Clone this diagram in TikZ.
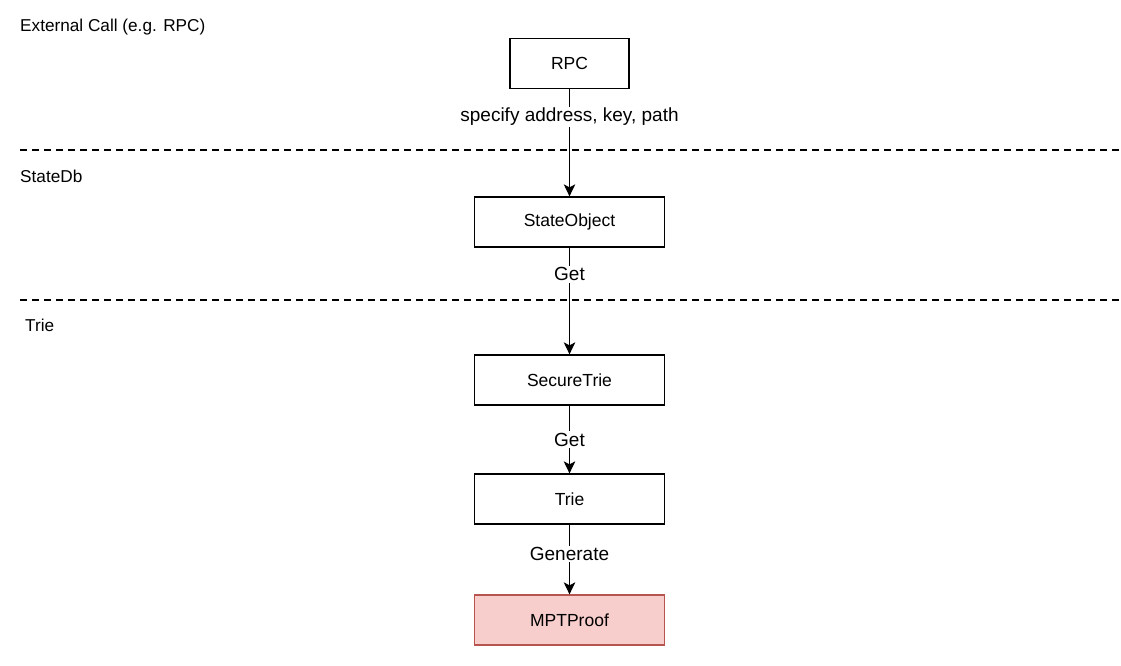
\documentclass[tikz,border=0pt]{standalone}
\usepackage{fontspec}
\setmainfont{Liberation Sans}
\usetikzlibrary{arrows.meta}
\begin{document}
\begin{tikzpicture}[x=1pt,y=-1pt,
  box/.style={draw=black, line width=1.3pt, minimum width=190pt, minimum height=50pt, font=\fontsize{17.5}{20}\selectfont, inner sep=0pt},
  redbox/.style={box, draw={rgb,255:red,184;green,84;blue,80}, fill={rgb,255:red,248;green,206;blue,204}},
  conn/.style={line width=1.3pt, -{Stealth[length=12pt,width=11.5pt,inset=3pt]}},
  elabel/.style={fill=white, inner sep=1.5pt, font=\fontsize{19}{22}\selectfont},
  lane/.style={font=\fontsize{17.2}{20}\selectfont, anchor=base west, inner sep=0pt},
  sep/.style={line width=1.3pt, dash pattern=on 7pt off 5pt}]
\useasboundingbox (0,0) rectangle (1121,665);
\fill[white] (0,0) rectangle (1121,665);

% lane separators
\coordinate (s1a) at (20,150);
\coordinate (s1b) at (1121,150);
\coordinate (s2a) at (20,300);
\coordinate (s2b) at (1121,300);
\draw[sep] (s1a) -- (s1b);
\draw[sep] (s2a) -- (s2b);

% lane labels
\node[lane] (l1) at (20,31) {External Call (e.g. RPC)};
\node[lane] (l2) at (20,182) {StateDb};
\node[lane] (l3) at (25,331) {Trie};

% nodes
\node[box, minimum width=119pt] (rpc) at (569.5,63.5) {RPC};
\node[box] (so) at (569.5,222) {StateObject};
\node[box] (st) at (569.5,380) {SecureTrie};
\node[box] (trie) at (569.5,499) {Trie};
\node[redbox] (mpt) at (569.5,620) {MPTProof};

% connectors
\draw[conn] (rpc) -- node[elabel, pos=0.26] {specify address, key, path} (so);
\draw[conn] (so) -- node[elabel, pos=0.25] {Get} (st);
\draw[conn] (st) -- node[elabel, pos=0.5] {Get} (trie);
\draw[conn] (trie) -- node[elabel, pos=0.42] {Generate} (mpt);
\end{tikzpicture}
\end{document}
